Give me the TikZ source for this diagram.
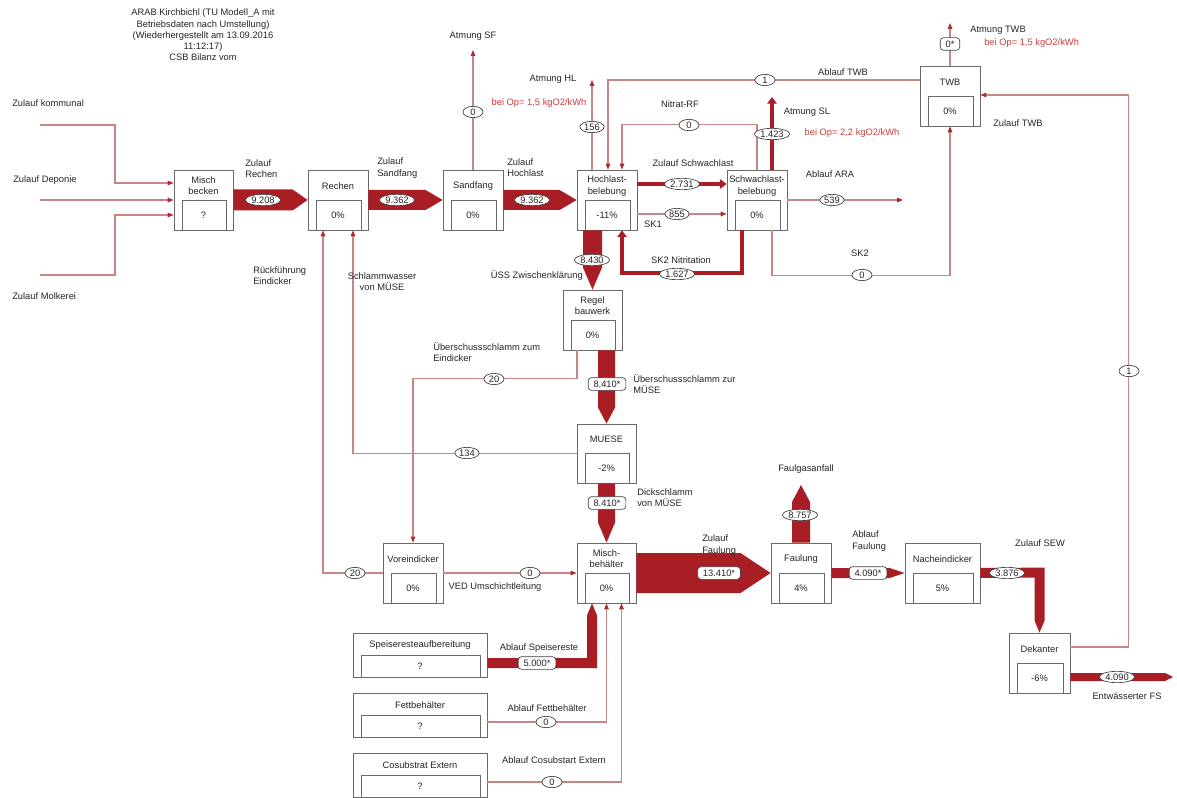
\documentclass[tikz,border=0pt]{standalone}
\usepackage{fontspec}
\setmainfont{Liberation Sans}
\usetikzlibrary{arrows.meta,shapes.geometric,calc,fit}
\definecolor{fatred}{RGB}{168,30,36}
\definecolor{thinred}{RGB}{200,135,135}
\definecolor{arrred}{RGB}{170,45,50}
\definecolor{optxt}{RGB}{205,60,60}
\definecolor{boxgray}{RGB}{105,105,105}
\tikzset{
 every node/.style={font=\fontsize{7}{8.4}\selectfont, text=black!85},
 outerbox/.style={draw=boxgray, line width=0.6pt, inner sep=0pt, fill=white},
 boxline/.style={draw=boxgray, line width=0.6pt},
 flow/.style={draw=thinred, line width=0.8pt, -{Triangle[length=4.5pt,width=3.5pt,color=arrred]}},
 thickflow/.style={draw=fatred, line width=3pt, -{Triangle[length=5pt,width=7pt]}},
 fat/.style={fill=fatred},
 valE/.style={ellipse, draw=black!75, fill=white, line width=0.5pt, inner xsep=0.6pt, inner ysep=-1.5pt, minimum height=8.5pt, minimum width=15pt},
 valR/.style={rectangle, rounded corners=2.5pt, draw=black!75, fill=white, line width=0.5pt, inner xsep=4pt, inner ysep=0pt, minimum height=9.5pt},
 lbl/.style={align=left, anchor=west, inner sep=0pt},
 redlbl/.style={text=optxt},
}
\newcommand{\pbox}[7]{%
 \node[outerbox, fit={(#2,#3) (#4,#5)}] (#1) {};
 \pgfmathsetmacro{\pbxm}{(#2+#4)/2}%
 \pgfmathsetmacro{\pbym}{(#3+#5)/2}%
 \pgfmathsetmacro{\pbyt}{(#3+\pbym)/2+1}%
 \pgfmathsetmacro{\pbyv}{(\pbym+#5)/2}%
 \draw[boxline] (#2+8,#5) -- (#2+8,\pbym) -- (#4-7,\pbym) -- (#4-7,#5);
 \node[align=center] (#1-t) at (\pbxm,\pbyt) {#6};
 \node (#1-v) at (\pbxm,\pbyv) {#7};
}
\newcommand{\fath}[4]{%
 \fill[fat] ($(#1)+(0,-#3)$) -- ($(#2)+(-#4,-#3)$) -- (#2) -- ($(#2)+(-#4,#3)$) -- ($(#1)+(0,#3)$) -- cycle;}
\newcommand{\fatv}[4]{%
 \fill[fat] ($(#1)+(-#3,0)$) -- ($(#2)+(-#3,{-1*(#4)})$) -- (#2) -- ($(#2)+(#3,{-1*(#4)})$) -- ($(#1)+(#3,0)$) -- cycle;}
\begin{document}
\begin{tikzpicture}[x=0.75pt,y=-0.75pt]
\useasboundingbox (0,0) rectangle (1177,798);
\fill[white] (0,0) rectangle (1177,798);

\node[align=center] (title) at (203,35) {ARAB Kirchbichl (TU Modell\_A mit\\Betriebsdaten nach Umstellung)\\(Wiederhergestellt am 13.09.2016\\11:12:17)\\CSB Bilanz vom};

% boxes
\pbox{mb}{174}{170}{233}{230}{Misch\\becken}{?}
\pbox{rech}{308}{170}{368}{230}{Rechen}{0\%}
\pbox{sand}{443}{170}{503}{230}{Sandfang}{0\%}
\pbox{hl}{577}{170}{637}{230}{Hochlast-\\belebung}{-11\%}
\pbox{sl}{727}{170}{787}{230}{Schwachlast-\\belebung}{0\%}
\pbox{twb}{920}{66}{980}{126}{TWB}{0\%}
\pbox{reg}{563}{290}{622}{350}{Regel\\bauwerk}{0\%}
\pbox{muese}{577}{424}{636}{483}{MUESE}{-2\%}
\pbox{ved}{383}{543}{443}{603}{Voreindicker}{0\%}
\pbox{mbh}{577}{543}{636}{603}{Misch-\\behälter}{0\%}
\pbox{faul}{771}{543}{831}{603}{Faulung}{4\%}
\pbox{nach}{905}{543}{980}{603}{Nacheindicker}{5\%}
\pbox{dek}{1009}{633}{1070}{693}{Dekanter}{-6\%}
\pbox{speise}{353}{633}{487}{677}{Speiseresteaufbereitung}{?}
\pbox{fett}{353}{693}{487}{737}{Fettbehälter}{?}
\pbox{cosub}{353}{753}{487}{797}{Cosubstrat Extern}{?}

% free ends
\coordinate (zk) at (40,125);
\coordinate (zd) at (40,200);
\coordinate (zm) at (40,275);
\coordinate (atmSF) at (473,50);
\coordinate (atmHL) at (592,80);
\coordinate (atmSL) at (772,97);
\coordinate (atmTWB) at (950,23);
\coordinate (ara) at (903,200);
\coordinate (gas) at (801,485);
\coordinate (fs) at (1173,677);

% inputs
\draw[flow] (zk) -- (115,125) -- (115,183) -- ($(mb.west)+(0,-17)$);
\draw[flow] (zd) -- (mb.west);
\draw[flow] (zm) -- (115,275) -- (115,215) -- ($(mb.west)+(0,15)$);

% thin connectors
\draw[flow] (sand.north) -- (atmSF);
\draw[flow] ($(hl.north)+(-15,0)$) -- (atmHL);
\draw[flow] ($(twb.west)+(0,-16)$) -| ($(hl.north)+(1,0)$);
\draw[flow] (sl.north) |- ($(hl.north)+(15,-45)$) -- ($(hl.north)+(15,0)$);
\draw[flow] ($(hl.east)+(0,14)$) -- ($(sl.west)+(0,14)$);
\draw[flow] (sl.east) -- (ara);
\draw[flow] ($(sl.south)+(15,0)$) |- ($(twb.south)+(0,149)$) -- (twb.south);
\draw[flow] ($(dek.east)+(0,-16)$) -| ($(twb.east)+(148,-1)$) -- ($(twb.east)+(0,-1)$);
\draw[flow] (twb.north) -- (atmTWB);
\draw[flow] ($(reg.south)+(-15.5,0)$) |- ($(ved.north)+(0,-164)$) -- (ved.north);
\draw[flow] (muese.west) -| ($(rech.south)+(15,0)$);
\draw[flow] (ved.west) -| ($(rech.south)+(-15,0)$);
\draw[flow] (ved.east) -- (mbh.west);
\draw[flow] ($(fett.east)+(0,7)$) -| (mbh.south);
\draw[flow] ($(cosub.east)+(0,7)$) -| ($(mbh.south)+(15,0)$);

% thick connectors
\draw[thickflow] ($(sl.north)+(15,0)$) -- (atmSL);
\draw[thickflow] ($(hl.east)+(0,-16)$) -- ($(sl.west)+(0,-16)$);
\draw[thickflow] ($(sl.south)+(-15,0)$) |- ($(hl.south)+(15,43)$) -- ($(hl.south)+(15,0)$);

% fat arrows
\fath{mb.east}{rech.west}{10.5}{15}
\fath{rech.east}{sand.west}{10}{17}
\fath{sand.east}{hl.west}{10}{17}
\coordinate (hlS) at (hl.south -| reg.north);
\fatv{hlS}{reg.north}{9.5}{22}
\coordinate (regS) at (reg.south -| muese.north);
\fatv{regS}{muese.north}{8.5}{16}
\fatv{muese.south}{mbh.north}{8.5}{20}
\fath{mbh.east}{faul.west}{20}{30}
\fatv{faul.north}{gas}{9}{-17}
\fath{faul.east}{nach.west}{5}{15}
\fill[fat] ($(nach.east)+(0,-5)$) -- ($(dek.north)+(5,-65)$) -- ($(dek.north)+(5,-12)$) -- (dek.north) -- ($(dek.north)+(-5,-12)$) -- ($(dek.north)+(-5,-55)$) -- ($(nach.east)+(0,5)$) -- cycle;
\coordinate (dekO) at ($(dek.east)+(0,14)$);
\fath{dekO}{fs}{4}{8}
\coordinate (spO) at ($(speise.east)+(0,8)$);
\coordinate (spT) at ($(mbh.south)+(-14.5,0)$);
\fill[fat] ($(spO)+(0,-5)$) -- ($(spT |- spO)+(-5,-5)$) -- ($(spT)+(-5,12)$) -- (spT) -- ($(spT)+(5,12)$) -- ($(spT |- spO)+(5,5)$) -- ($(spO)+(0,5)$) -- cycle;

% value labels
\node[valE] (v1) at (263,200) {9.208};
\node[valE] (v2) at (397,200) {9.362};
\node[valE] (v3) at (532,200) {9.362};
\node[valE] (v4) at (473,112) {0};
\node[valE] (v5) at (592,127) {156};
\node[valE] (v6) at (765,80) {1};
\node[valE] (v7) at (689,125) {0};
\node[valE] (v8) at (772,134) {1.423};
\node[valE] (v9) at (682,184) {2.731};
\node[valE] (v10) at (677,214) {855};
\node[valE] (v11) at (677,274) {1.627};
\node[valE] (v12) at (832,200) {539};
\node[valE] (v13) at (862,275) {0};
\node[valE] (v14) at (1129,371) {1};
\node[valR] (v15) at (950,44) {0*};
\node[valE] (v16) at (592,260) {8.430};
\node[valR] (v17) at (607,384) {8.410*};
\node[valE] (v18) at (494,379) {20};
\node[valE] (v19) at (467,453) {134};
\node[valE] (v20) at (355,573) {20};
\node[valE] (v21) at (530,573) {0};
\node[valR] (v22) at (607,503) {8.410*};
\node[valR] (v23) at (719,573) {13.410*};
\node[valE] (v24) at (800,515) {8.757};
\node[valR] (v25) at (868,573) {4.090*};
\node[valE] (v26) at (1007,573) {3.876};
\node[valE] (v27) at (1117,677) {4.090};
\node[valR] (v28) at (537,663) {5.000*};
\node[valE] (v29) at (546,722) {0};
\node[valE] (v30) at (552,782) {0};

% text labels
\node[lbl] (t0a) at (12,103) {Zulauf kommunal};
\node[lbl] (t0b) at (13,180) {Zulauf Deponie};
\node[lbl] (t0c) at (12,296) {Zulauf Molkerei};
\node[lbl] (t1) at (245,169) {Zulauf\\Rechen};
\node[lbl] (t2) at (377,168) {Zulauf\\Sandfang};
\node[lbl] (t3) at (507,168) {Zulauf\\Hochlast};
\node (t4) at (473,36) {Atmung SF};
\node (t5) at (553,79) {Atmung HL};
\node[redlbl] (t6) at (539,103) {bei Op= 1,5 kgO2/kWh};
\node (t7) at (843,72) {Ablauf TWB};
\node (t8) at (680,104) {Nitrat-RF};
\node (t9) at (807,112) {Atmung SL};
\node[redlbl] (t10) at (852,133) {bei Op= 2,2 kgO2/kWh};
\node (t11) at (693,163) {Zulauf Schwachlast};
\node (t12) at (653,224) {SK1};
\node (t13) at (681,260) {SK2 Nitritation};
\node (t14) at (830,174) {Ablauf ARA};
\node (t15) at (860,253) {SK2};
\node[lbl] (t16) at (993,123) {Zulauf TWB};
\node[lbl] (t17) at (970,30) {Atmung TWB};
\node[lbl,redlbl] (t18) at (984,43) {bei Op= 1,5 kgO2/kWh};
\node[anchor=east, inner sep=0pt] (t19) at (583,276) {ÜSS Zwischenklärung};
\node[lbl] (t20) at (633,384) {Überschussschlamm zur\\MÜSE};
\node[lbl] (t21) at (433,352) {Überschussschlamm zum\\Eindicker};
\node[align=center] (t22) at (382,282) {Schlammwasser\\von MÜSE};
\node[lbl] (t23) at (253,276) {Rückführung\\Eindicker};
\node (t24) at (495,587) {VED Umschichtleitung};
\node[lbl] (t25) at (637,498) {Dickschlamm\\von MÜSE};
\node[lbl] (t26) at (702,545) {Zulauf\\Faulung};
\node (t27) at (806,469) {Faulgasanfall};
\node[lbl] (t28) at (852,541) {Ablauf\\Faulung};
\node (t29) at (1040,543) {Zulauf SEW};
\node (t30) at (1127,696) {Entwässerter FS};
\node (t31) at (539,648) {Ablauf Speisereste};
\node (t32) at (547,708) {Ablauf Fettbehälter};
\node (t33) at (554,760) {Ablauf Cosubstart Extern};
\end{tikzpicture}
\end{document}
